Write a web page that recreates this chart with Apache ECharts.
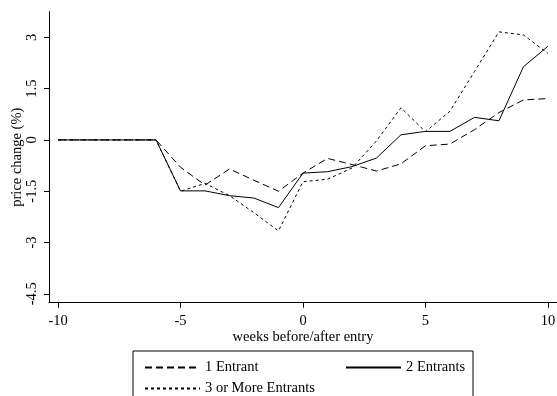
<!DOCTYPE html>
<html>
<head>
<meta charset="utf-8">
<script src="https://cdn.jsdelivr.net/npm/echarts@6/dist/echarts.min.js"></script>
<style>
html,body{margin:0;padding:0;background:#fff;}
#c{width:557px;height:396px;}
</style>
</head>
<body>
<div id="c"></div>
<script>
const weeks = [-10,-9,-8,-7,-6,-5,-4,-3,-2,-1,0,1,2,3,4,5,6,7,8,9,10];
const oneEntrant = [0,0,0,0,0,-0.80,-1.32,-0.85,-1.18,-1.50,-0.97,-0.54,-0.72,-0.91,-0.70,-0.17,-0.12,0.30,0.80,1.17,1.21];
const twoEntrants = [0,0,0,0,0,-1.49,-1.49,-1.63,-1.70,-1.98,-0.97,-0.93,-0.78,-0.53,0.15,0.25,0.25,0.66,0.56,2.14,2.74];
const threePlus = [0,0,0,0,0,-1.50,-1.27,-1.63,-2.13,-2.66,-1.22,-1.15,-0.82,-0.03,0.94,0.24,0.84,2.00,3.16,3.07,2.53];
const xTicks = [-10,-5,0,5,10];
const yTicks = [-4.5,-3,-1.5,0,1.5,3];
const names = ['1 Entrant','2 Entrants','3 or More Entrants'];

const FONT = 'Liberation Serif';
const FS = 14.5;
const pair = (arr) => weeks.map((w,i)=>[w, arr[i]]);

const chart = echarts.init(document.getElementById('c'), null, {renderer:'canvas'});
const lineBase = {type:'line', symbol:'none', showSymbol:false, animation:false, silent:true};
const legendBase = {itemWidth:55, itemHeight:14, itemGap:8, selectedMode:false,
  itemStyle:{opacity:0},
  textStyle:{fontFamily:FONT, fontSize:FS, color:'#000'}};
chart.setOption({
  animation:false,
  backgroundColor:'#fff',
  textStyle:{fontFamily:FONT, color:'#000'},
  grid:{left:49, top:11.7, width:508, height:291, containLabel:false, outerBoundsMode:'none'},
  xAxis:{
    type:'value', min:-10.37, max:10.37,
    axisLine:{show:true, onZero:false, lineStyle:{color:'#000', width:1}},
    axisTick:{show:true, inside:false, length:5, customValues:xTicks, lineStyle:{color:'#000'}},
    axisLabel:{customValues:xTicks, margin:11, fontFamily:FONT, fontSize:FS, color:'#000'},
    splitLine:{show:false},
    name:'weeks before/after entry', nameLocation:'middle', nameGap:27, nameMoveOverlap:false,
    nameTextStyle:{fontFamily:FONT, fontSize:FS, color:'#000'}
  },
  yAxis:{
    type:'value', min:-4.76, max:3.75,
    axisLine:{show:true, onZero:false, lineStyle:{color:'#000', width:1}},
    axisTick:{show:true, inside:false, length:5, customValues:yTicks, lineStyle:{color:'#000'}},
    axisLabel:{customValues:yTicks, rotate:90, margin:9, fontFamily:FONT, fontSize:FS, color:'#000',
      formatter:(v)=>String(v)},
    splitLine:{show:false},
    name:'price change (%)', nameLocation:'middle', nameGap:24, nameMoveOverlap:false,
    nameTextStyle:{fontFamily:FONT, fontSize:FS, color:'#000'}
  },
  legend:[
    Object.assign({}, legendBase, {data:[names[0]], left:139, top:355}),
    Object.assign({}, legendBase, {data:[names[1]], left:340, top:355}),
    Object.assign({}, legendBase, {data:[names[2]], left:139, top:376})
  ],
  graphic:[{type:'rect', shape:{x:133, y:351, width:340, height:60},
    style:{fill:'none', stroke:'#000', lineWidth:1}, silent:true}],
  series:[
    Object.assign({}, lineBase, {name:names[0], data:pair(oneEntrant),
      lineStyle:{color:'#000', width:1, type:[7,4]}, itemStyle:{color:'#000'}}),
    Object.assign({}, lineBase, {name:names[1], data:pair(twoEntrants),
      lineStyle:{color:'#000', width:1, type:'solid'}, itemStyle:{color:'#000'}}),
    Object.assign({}, lineBase, {name:names[2], data:pair(threePlus),
      lineStyle:{color:'#000', width:1, type:[3,3]}, itemStyle:{color:'#000'}})
  ]
});
</script>
</body>
</html>
